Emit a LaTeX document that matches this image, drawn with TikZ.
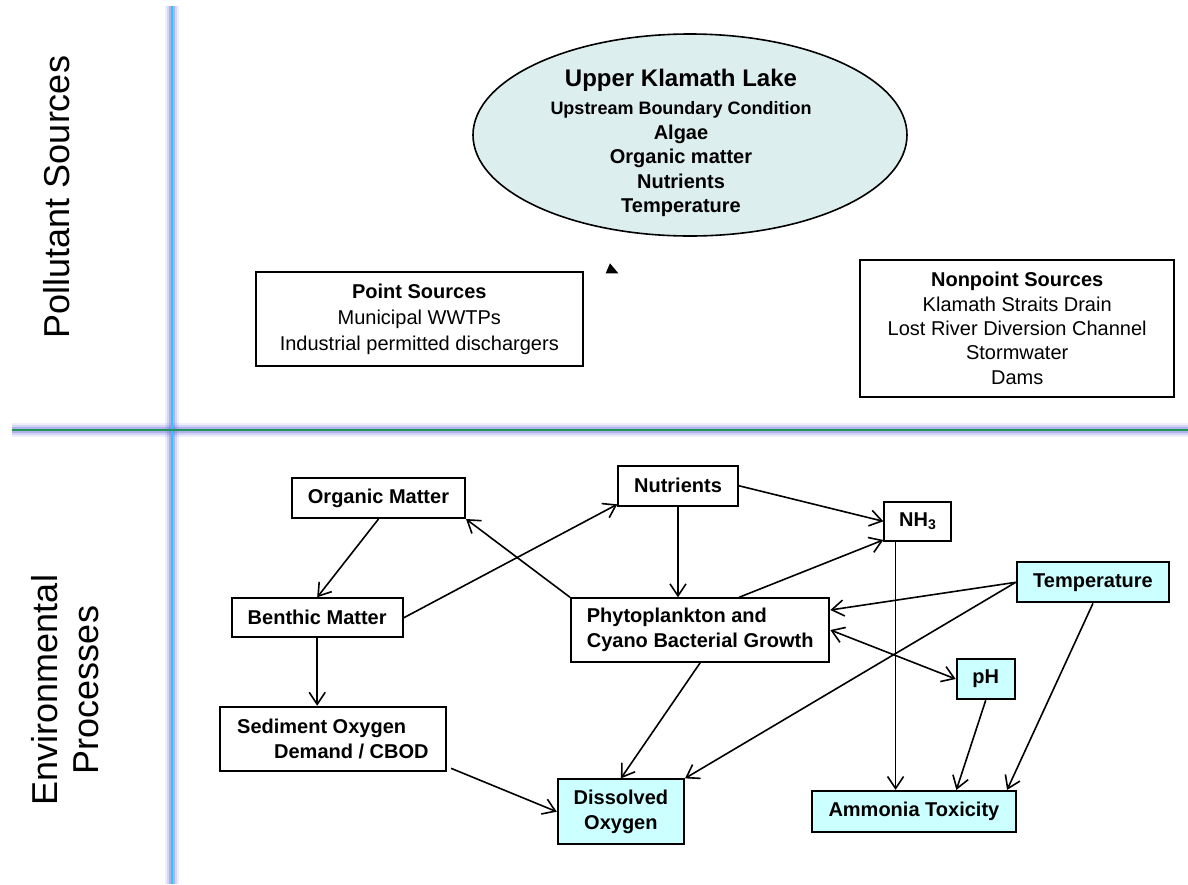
\documentclass[tikz,border=0pt]{standalone}
\usepackage{fontspec}
\setmainfont{Liberation Sans}
\usetikzlibrary{arrows.meta,shapes.geometric,calc}
\definecolor{boxcyan}{RGB}{204,255,255}
\definecolor{lakefill}{RGB}{221,238,238}
\definecolor{glow}{RGB}{110,110,220}
\definecolor{vcore}{RGB}{40,200,255}
\definecolor{hcore}{RGB}{30,150,90}
\begin{document}
\begin{tikzpicture}[x=1pt,y=-1pt,
  >={Straight Barb[length=12pt,width=16pt]},
  box/.style={draw, line width=2pt, inner sep=0pt, align=center,
    font=\fontsize{20}{24.4}\selectfont\bfseries},
  hl/.style={box, fill=boxcyan},
  srcbox/.style={draw, line width=2pt, inner sep=0pt, align=center},
  conn/.style={->, line width=1.6pt},
  sidelabel/.style={rotate=90, align=center, font=\fontsize{36}{41}\selectfont}]
\useasboundingbox (0,0) rectangle (1188,884);

% separator lines
\coordinate (vt) at (172,6);
\coordinate (vb) at (172,884);
\coordinate (hl) at (12,430);
\coordinate (hr) at (1188,430);
\foreach \w/\o in {14/0.12, 10/0.2, 6/0.35} {
  \draw[glow, opacity=\o, line width=\w pt] (vt) -- (vb);
  \draw[glow, opacity=\o, line width=\w pt] (hl) -- (hr);
}
\draw[vcore, line width=2pt] (vt) -- (vb);
\draw[hcore, line width=1.8pt] (hl) -- (hr);

% side labels
\node[sidelabel] (lps) at (56.5,197) {Pollutant Sources};
\node[sidelabel] (lep) at (65,690) {Environmental\\Processes};

% pollutant sources
\node[ellipse, draw, line width=1.6pt, fill=lakefill, minimum width=434pt,
  minimum height=202pt, inner sep=0pt] (lake) at (690,135) {};
\node[align=center, font=\fontsize{20}{24.5}\selectfont\bfseries] (laketext) at (681,143)
  {{\fontsize{24}{24.5}\selectfont Upper Klamath Lake}\\[4pt]
   {\fontsize{18}{24.5}\selectfont Upstream Boundary Condition}\\
   Algae\\Organic matter\\Nutrients\\Temperature};
\fill (610,263.3) -- (605.7,273.3) -- (618.3,273.3) -- cycle;

\node[srcbox, minimum width=326.7pt, minimum height=93.4pt,
  font=\fontsize{20}{26}\selectfont] (ps) at (419.3,319)
  {\textbf{Point Sources}\\Municipal WWTPs\\Industrial permitted dischargers};
\node[srcbox, minimum width=314.3pt, minimum height=136.7pt,
  font=\fontsize{20}{24.3}\selectfont] (nps) at (1017.2,328.3)
  {\textbf{Nonpoint Sources}\\Klamath Straits Drain\\Lost River Diversion Channel\\Stormwater\\Dams};

% environmental processes
\node[box, minimum width=173pt, minimum height=40pt] (om) at (378.5,498) {Organic Matter};
\node[box, minimum width=119.4pt, minimum height=40pt] (nut) at (678,485.7) {Nutrients};
\node[box, minimum width=66.7pt, minimum height=38.7pt] (nh3) at (917.7,521.3) {NH\textsubscript{3}};
\node[box, minimum width=171pt, minimum height=39pt] (ben) at (317.2,617.8) {Benthic Matter};
\node[box, minimum width=258.3pt, minimum height=63.4pt, align=left] (phy) at (700.2,630)
  {Phytoplankton and\\Cyano Bacterial Growth};
\node[hl, minimum width=152.6pt, minimum height=40pt] (temp) at (1093,582.3) {Temperature};
\node[hl, minimum width=58pt, minimum height=40.6pt] (ph) at (985.7,679) {pH};
\node[box, minimum width=225.7pt, minimum height=64pt, align=left,
  font=\fontsize{20}{25}\selectfont\bfseries] (sod) at (332.9,738.7)
  {Sediment Oxygen\\\hspace*{37pt}Demand / CBOD};
\node[hl, minimum width=126.3pt, minimum height=64.7pt] (do) at (620.9,811.7) {Dissolved\\Oxygen};
\node[hl, minimum width=204.3pt, minimum height=40.7pt] (amm) at (913.9,811.3) {Ammonia Toxicity};

% connectors
\coordinate (nh3b) at ($(nh3.south west)+(12.2,0)$);
\draw[conn] (om.south) -- (ben.north);
\draw[conn] (ben.east) -- ($(nut.south west)+(0,-2.4)$);
\draw[conn] (phy.north west) -- (om.south east);
\draw[conn] (nut.south) -- (nut.south |- phy.north);
\draw[conn] (nut.east) -- (nh3.west);
\draw[conn] ($(phy.north west)+(169,0)$) -- ($(nh3.south west)+(0,-1.7)$);
\draw[conn] (nh3b) -- (nh3b |- amm.north);
\draw[conn] (temp.west) -- ($(phy.east)+(0,-20)$);
\draw[conn] (temp.west) -- (do.north east);
\draw[conn] (temp.south) -- ($(amm.north east)+(-10,0)$);
\draw[conn, <->] (phy.east) -- (ph.west);
\draw[conn] (ph.south) -- ($(amm.north west)+(145.6,0)$);
\draw[conn] (phy.south) -- (do.north);
\draw[conn] (ben.south) -- (ben.south |- sod.north);
\draw[conn] ($(sod.south east)+(4.3,-3.4)$) -- (do.west);
\end{tikzpicture}
\end{document}
